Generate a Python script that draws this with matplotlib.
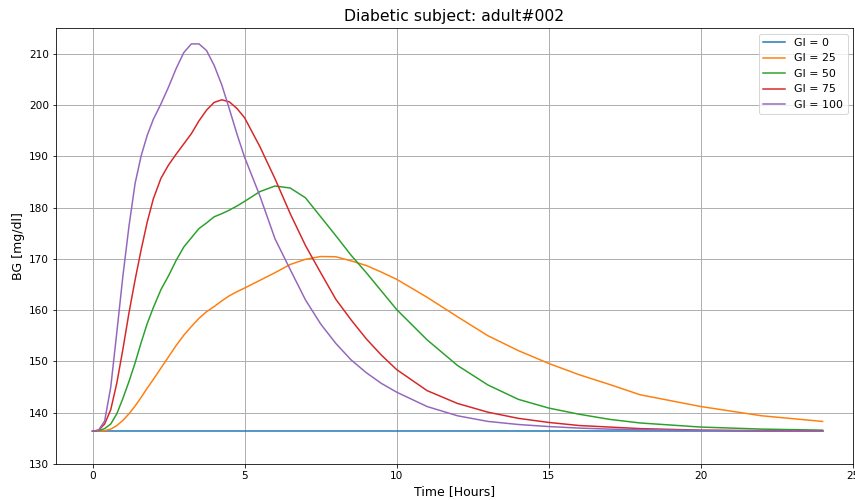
import matplotlib
matplotlib.use("Agg")
import matplotlib.pyplot as plt


# time grid in hours (readings)
hours = [0, 0.2, 0.4, 0.6, 0.8, 1.0, 1.2, 1.4, 1.6, 1.8, 2.0, 2.25, 2.5,
         2.75, 3.0, 3.25, 3.5, 3.75, 4.0, 4.25, 4.5, 4.75, 5.0, 5.5, 6.0,
         6.5, 7.0, 7.5, 8.0, 8.5, 9.0, 9.5, 10, 11, 12, 13, 14, 15, 16,
         17, 18, 20, 22, 24]

flat_hours = [0, 24]
bg_gi0 = [136.4, 136.4]

bg_gi25 = [136.4, 136.4, 136.5, 136.8, 137.5, 138.5, 139.8, 141.3, 143.0,
           144.8, 146.5, 148.7, 150.9, 153.1, 155.1, 156.8, 158.4, 159.7,
           160.7, 161.8, 162.8, 163.6, 164.3, 165.8, 167.3, 168.9, 169.9,
           170.45, 170.4, 169.6, 168.7, 167.4, 166.0, 162.5, 158.7, 155.0,
           152.1, 149.6, 147.4, 145.5, 143.5, 141.2, 139.4, 138.3]

bg_gi50 = [136.4, 136.5, 136.9, 137.8, 139.8, 142.8, 146.1, 149.7, 153.7,
           157.4, 160.5, 164.0, 166.7, 169.7, 172.3, 174.1, 175.9, 177.0,
           178.2, 178.8, 179.5, 180.3, 181.2, 183.1, 184.2, 183.8, 181.9,
           178.2, 174.5, 170.7, 167.3, 163.7, 160.1, 154.2, 149.2, 145.4,
           142.6, 140.9, 139.7, 138.7, 138.0, 137.2, 136.8, 136.6]

bg_gi75 = [136.4, 136.6, 137.8, 140.6, 145.8, 152.4, 159.5, 165.9, 171.8,
           177.2, 181.7, 185.7, 188.3, 190.4, 192.4, 194.4, 196.9, 199.0,
           200.5, 201.0, 200.6, 199.3, 197.5, 191.9, 185.6, 178.8, 172.6,
           167.3, 162.1, 158.1, 154.4, 151.2, 148.4, 144.3, 141.8, 140.1,
           138.9, 138.1, 137.5, 137.2, 136.9, 136.6, 136.5, 136.4]

bg_gi100 = [136.4, 136.6, 138.4, 145.0, 155.7, 166.7, 176.4, 184.7, 190.1,
            194.1, 197.2, 200.2, 203.5, 207.1, 210.2, 211.9, 211.9, 210.6,
            207.7, 203.9, 199.2, 194.3, 189.8, 182.3, 173.9, 167.9, 162.0,
            157.3, 153.5, 150.3, 147.8, 145.7, 144.0, 141.2, 139.4, 138.3,
            137.7, 137.3, 137.0, 136.8, 136.7, 136.55, 136.45, 136.4]


def main():

    fig = plt.figure(figsize=(855 / 72, 500 / 72), dpi=72)
    ax = fig.add_axes([56 / 855, 36 / 500, 797 / 855, 436 / 500])

    ax.plot(flat_hours, bg_gi0, label="GI = 0")
    ax.plot(hours, bg_gi25, label="GI = 25")
    ax.plot(hours, bg_gi50, label="GI = 50")
    ax.plot(hours, bg_gi75, label="GI = 75")
    ax.plot(hours, bg_gi100, label="GI = 100")

    ax.set_xlim(-1.2, 25)
    ax.set_ylim(130, 215)

    ax.set_title("Diabetic subject: adult#002", fontsize=15.6, pad=7)
    ax.set_xlabel("Time [Hours]", fontsize=12.5)
    ax.set_ylabel("BG [mg/dl]", fontsize=12.5)

    ax.tick_params(labelsize=10.5)
    ax.grid(True, linewidth=1.0)
    ax.legend(loc="upper right", fontsize=11)

    fig.savefig("out.png", dpi=72)


if __name__ == "__main__":
    main()
